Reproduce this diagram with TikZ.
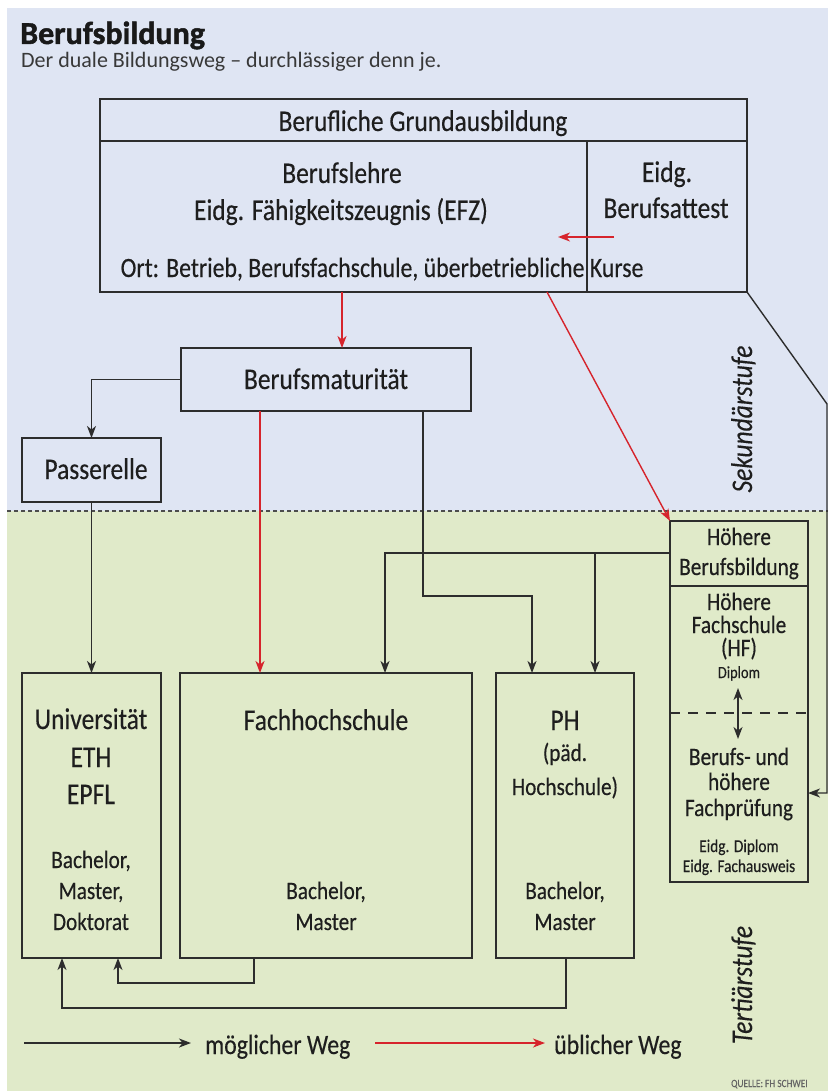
\documentclass[tikz,border=0pt]{standalone}
\usepackage{fontspec}
\setmainfont[FakeStretch=0.85,FakeBold=0.35]{Carlito}
\newfontfamily\titlefont[FakeBold=1.4]{Carlito}
\newfontfamily\subfont{Carlito}
\usetikzlibrary{arrows.meta}
\definecolor{bgblue}{RGB}{223,229,243}
\definecolor{bggreen}{RGB}{224,234,201}
\definecolor{redc}{RGB}{214,36,44}
\definecolor{linec}{RGB}{45,45,45}
\definecolor{textc}{RGB}{30,30,30}
\begin{document}
\begin{tikzpicture}[x=1pt,y=-1pt,
  box/.style={draw=linec, line width=1.4pt, inner sep=0pt, outer sep=0pt},
  seg/.style={draw=linec, line width=1.4pt},
  conn/.style={draw=linec, line width=1.4pt, -{Stealth[length=12pt,width=9pt,inset=3.5pt]}},
  dbl/.style={draw=linec, line width=1.4pt, {Stealth[length=12pt,width=9pt,inset=3.5pt]}-{Stealth[length=12pt,width=9pt,inset=3.5pt]}},
  redconn/.style={draw=redc, line width=1.4pt, -{Stealth[length=12pt,width=9pt,inset=3.5pt]}},
  tl/.style={anchor=base, inner sep=0pt, text=textc, font=\fontsize{30}{36}\selectfont},
  tm/.style={tl, font=\fontsize{25}{30}\selectfont},
  ts/.style={tl, font=\fontsize{18}{22}\selectfont},
  txs/.style={tl, font=\fontsize{17}{20}\selectfont},
  rot/.style={anchor=base, inner sep=0pt, rotate=90, text=textc, font=\itshape\fontsize{30}{36}\selectfont},
]
\useasboundingbox (0,0) rectangle (828,1091);
\fill[white] (0,0) rectangle (828,1091);
\fill[bgblue] (7,8) rectangle (828,511);
\fill[bggreen] (7,511) rectangle (828,1091);
\draw[linec!85, line width=1.4pt, dash pattern=on 4pt off 3pt] (7,511) -- (828,511);

% title
\node[anchor=base west, inner sep=0pt, text=black!90, font=\titlefont\bfseries\fontsize{32}{36}\selectfont] (title) at (20,44) {Berufsbildung};
\node[anchor=base west, inner sep=0pt, text=black!78, font=\subfont\fontsize{22}{24}\selectfont] (subtitle) at (21,67.5) {Der duale Bildungsweg – durchlässiger denn je.};

% helper coordinates
\coordinate (hl) at (0,141);
\coordinate (dv) at (587,0);
\coordinate (x342) at (342,0);
\coordinate (x547) at (547,0);
\coordinate (x260) at (260,0);
\coordinate (x423) at (423,0);
\coordinate (y596) at (0,596);
\coordinate (x532) at (532,0);
\coordinate (y553) at (0,553);
\coordinate (x385) at (385,0);
\coordinate (x595) at (595,0);
\coordinate (rk) at (827,404);
\coordinate (y793) at (0,793);
\coordinate (x254) at (254,0);
\coordinate (y983) at (0,983);
\coordinate (x118) at (118,0);
\coordinate (x566) at (566,0);
\coordinate (y1008) at (0,1008);
\coordinate (x62) at (62,0);
\coordinate (y586) at (0,586);
\coordinate (y713) at (0,713);

% boxes
\node[box, minimum width=647pt, minimum height=193pt] (grund) at (423.5,195.5) {};
\draw[seg] (grund.west |- hl) -- (grund.east |- hl);
\draw[seg] (dv |- hl) -- (grund.south -| dv);
\node[box, minimum width=290pt, minimum height=63pt] (bm) at (326,379.5) {};
\node[box, minimum width=139pt, minimum height=64pt] (pass) at (91.5,470) {};
\node[box, minimum width=139pt, minimum height=285pt] (uni) at (91.5,815.5) {};
\node[box, minimum width=292pt, minimum height=285pt] (fh) at (326,815.5) {};
\node[box, minimum width=138pt, minimum height=285pt] (ph) at (565,815.5) {};
\node[box, minimum width=138pt, minimum height=361pt] (hb) at (739,701.5) {};
\draw[seg] (hb.west |- y586) -- (hb.east |- y586);
\draw[seg, dash pattern=on 10pt off 8pt] (hb.west |- y713) -- (hb.east |- y713);

% texts
\node[tl] (t1) at (423,131) {Berufliche Grundausbildung};
\node[tl] (t2) at (342,183) {Berufslehre};
\node[tl] (t3) at (341,220) {Eidg. Fähigkeitszeugnis (EFZ)};
\node[tl, font=\fontsize{28}{32}\selectfont] (t4) at (382,277) {Ort: Betrieb, Berufsfachschule, überbetriebliche Kurse};
\node[tl] (t5) at (667,182) {Eidg.};
\node[tl] (t6) at (666,218) {Berufsattest};
\node[tl] (t7) at (326,389) {Berufsmaturität};
\node[tl] (t8) at (96,479) {Passerelle};
\node[tl] (u1) at (91,729) {Universität};
\node[tl] (u2) at (91,767) {ETH};
\node[tl] (u3) at (91,804) {EPFL};
\node[tm] (u4) at (91,868) {Bachelor,};
\node[tm] (u5) at (91,899) {Master,};
\node[tm] (u6) at (91,930) {Doktorat};
\node[tl] (f1) at (326,730) {Fachhochschule};
\node[tm] (f2) at (326,899) {Bachelor,};
\node[tm] (f3) at (326,930) {Master};
\node[tl] (p1) at (565,730) {PH};
\node[tm] (p2) at (565,761) {(päd.};
\node[tm] (p3) at (565,795) {Hochschule)};
\node[tm] (p4) at (565,899) {Bachelor,};
\node[tm] (p5) at (565,930) {Master};
\node[tm] (h1) at (739,545) {Höhere};
\node[tm] (h2) at (739,575) {Berufsbildung};
\node[tm] (h3) at (739,610) {Höhere};
\node[tm] (h4) at (739,633) {Fachschule};
\node[tm] (h5) at (739,656) {(HF)};
\node[txs] (h6) at (739,678) {Diplom};
\node[tm] (h7) at (739,765) {Berufs- und};
\node[tm] (h8) at (739,790) {höhere};
\node[tm] (h9) at (739,816) {Fachprüfung};
\node[ts] (h10) at (739,852) {Eidg. Diplom};
\node[ts] (h11) at (739,872) {Eidg. Fachausweis};
\node[rot] (sek) at (752,419) {Sekundärstufe};
\node[rot] (ter) at (752,985) {Tertiärstufe};

% connectors
\coordinate (ra1) at (614,237);
\coordinate (ra2) at (558,237);
\draw[redconn] (ra1) -- (ra2);
\draw[redconn] (grund.south -| x342) -- (bm.north -| x342);
\draw[redconn] (grund.south -| x547) -- (hb.north west);
\draw[conn] (bm.west) -| (pass.north);
\draw[conn] (pass.south) -- (uni.north);
\draw[redconn] (bm.south -| x260) -- (fh.north -| x260);
\draw[conn] (bm.south -| x423) -- (x423 |- y596) -| (ph.north -| x532);
\draw[conn] (hb.west |- y553) -| (fh.north -| x385);
\draw[conn] (x595 |- y553) -- (ph.north -| x595);
\draw[conn] (grund.south east) -- (rk) -- (rk |- y793) -- (hb.east |- y793);
\coordinate (da1) at (738,688);
\coordinate (da2) at (738,739);
\draw[dbl] (da1) -- (da2);
\draw[conn] (fh.south -| x254) -- (x254 |- y983) -| (uni.south -| x118);
\draw[conn] (ph.south -| x566) -- (x566 |- y1008) -| (uni.south -| x62);

% legend
\coordinate (l1a) at (24,1043);
\coordinate (l1b) at (191,1043);
\coordinate (l2a) at (375,1043);
\coordinate (l2b) at (545,1043);
\draw[conn] (l1a) -- (l1b);
\draw[redconn] (l2a) -- (l2b);
\node[anchor=base west, inner sep=0pt, text=textc, font=\fontsize{28}{32}\selectfont] (lg1) at (205,1054) {möglicher Weg};
\node[anchor=base west, inner sep=0pt, text=textc, font=\fontsize{28}{32}\selectfont] (lg2) at (554,1054) {üblicher Weg};
\node[anchor=base west, inner sep=0pt, text=black!60, font=\fontsize{11}{12}\selectfont] (src) at (731,1087) {QUELLE: FH SCHWEI};
\end{tikzpicture}
\end{document}
